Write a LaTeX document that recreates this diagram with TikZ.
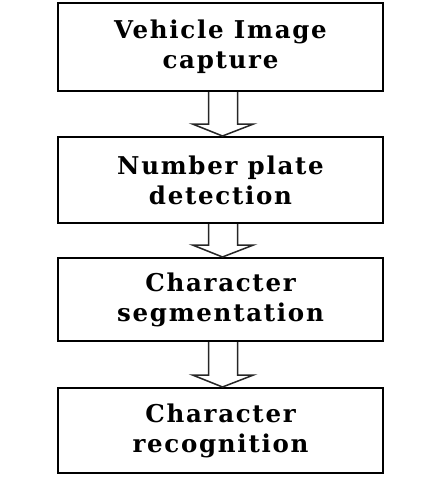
\documentclass[tikz,border=0pt]{standalone}
\usepackage{fontspec}
\setmainfont{DejaVu Serif}
\usetikzlibrary{calc}
\begin{document}
\begin{tikzpicture}[x=1pt,y=-1pt,
  stage/.style={draw=black, line width=2pt, minimum width=325pt, inner sep=0pt, align=center,
    font=\fontsize{24.5}{30}\selectfont\bfseries\addfontfeature{LetterSpace=7}},
  blockarrow/.style={draw=black!85, line width=1.5pt, fill=white, line join=miter}]
\useasboundingbox (0,0) rectangle (441,482);
\node[stage, minimum height=88pt] (b1) at (220.5,47) {Vehicle Image\\capture};
\node[stage, minimum height=86pt] (b2) at (220.5,180) {Number plate\\detection};
\node[stage, minimum height=83pt] (b3) at (220.5,299.5) {Character\\segmentation};
\node[stage, minimum height=85pt] (b4) at (220.5,430.5) {Character\\recognition};
\foreach \a/\b in {b1/b2, b2/b3, b3/b4}{
  \draw[blockarrow]
    ($(\a.south)+(-12,0)$) -- ($(\b.north)+(-12,-12)$) -- ($(\b.north)+(-28,-12)$)
    -- ($(\b.north)+(2,0)$) -- ($(\b.north)+(33,-12)$) -- ($(\b.north)+(17,-12)$)
    -- ($(\a.south)+(17,0)$);
}
\end{tikzpicture}
\end{document}
